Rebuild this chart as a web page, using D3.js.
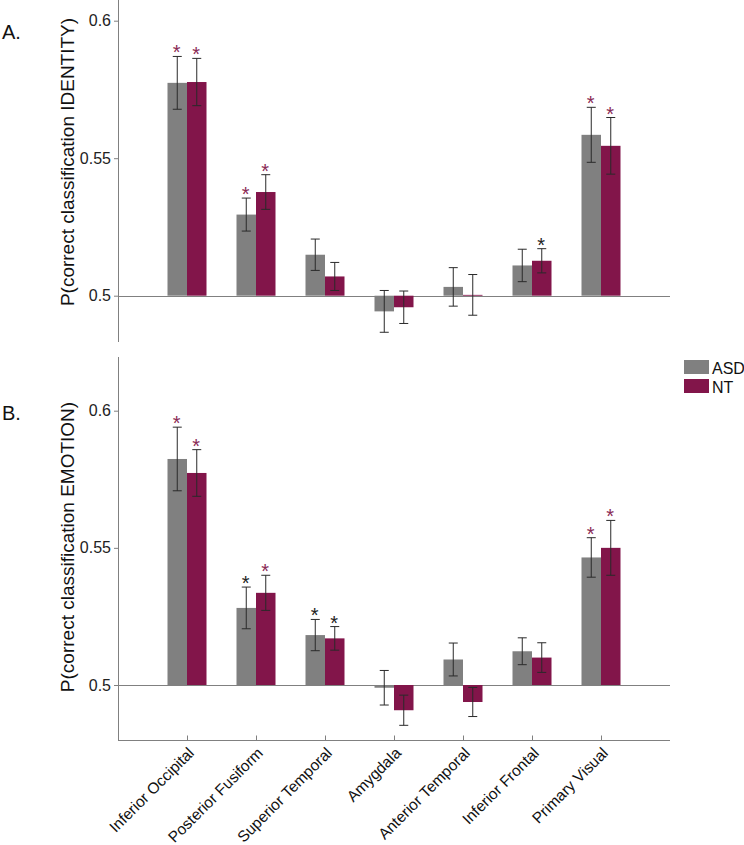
<!DOCTYPE html>
<html>
<head>
<meta charset="utf-8">
<script src="https://cdn.jsdelivr.net/npm/d3@7"></script>
<style>
  html, body { margin: 0; padding: 0; background: #fff; }
  svg { display: block; font-family: "Liberation Sans", Arial, sans-serif; }
</style>
</head>
<body>
<svg id="chart" width="744" height="845"></svg>
<script>
// ---------- DATA ----------
const categories = ["Inferior Occipital", "Posterior Fusiform", "Superior Temporal", "Amygdala", "Anterior Temporal", "Inferior Frontal", "Primary Visual"];
const seriesNames = ["ASD", "NT"];
const yTicks = [0.5, 0.55, 0.6];

const identityASD    = [0.5774, 0.5295, 0.5149, 0.4943, 0.5032, 0.5110, 0.5585];
const identityASDErr = [0.0096, 0.0060, 0.0057, 0.0076, 0.0070, 0.0059, 0.0100];
const identityNT     = [0.5777, 0.5377, 0.5070, 0.4958, 0.5003, 0.5127, 0.5545];
const identityNTErr  = [0.0086, 0.0063, 0.0051, 0.0059, 0.0074, 0.0044, 0.0103];
const identityASDSig = ["m", "m", "", "", "", "", "m"];
const identityNTSig  = ["m", "m", "", "", "", "k", "m"];

const emotionASD    = [0.5824, 0.5281, 0.5182, 0.4990, 0.5093, 0.5123, 0.5465];
const emotionASDErr = [0.0116, 0.0076, 0.0057, 0.0063, 0.0060, 0.0049, 0.0072];
const emotionNT     = [0.5773, 0.5336, 0.5170, 0.4908, 0.4938, 0.5100, 0.5500];
const emotionNTErr  = [0.0085, 0.0064, 0.0043, 0.0055, 0.0053, 0.0054, 0.0100];
const emotionASDSig = ["m", "k", "k", "", "", "", "m"];
const emotionNTSig  = ["m", "m", "k", "", "", "", "m"];

// ---------- STYLE ----------
const colors = { ASD: "#808080", NT: "#82154a" };
const starColors = { m: "#8a2a55", k: "#222222" };
const axisColor = "#808080";

const svg = d3.select("#chart");

const x = d3.scaleLinear().domain([0, categories.length + 1]).range([118, 670]);
const barW = 19.5;

function panel(cfg) {
  const g = svg.append("g");
  const y = d3.scaleLinear().domain([0.5, 0.6]).range(cfg.yRange);

  // y axis (ticks + labels)
  const ax = g.append("g")
    .attr("transform", "translate(118,0)")
    .call(d3.axisLeft(y).tickValues(yTicks).tickSize(4).tickPadding(3)
      .tickFormat(d => d3.format("")(+d.toFixed(2))));
  ax.select(".domain").remove();
  ax.selectAll(".tick line").attr("stroke", axisColor);
  ax.selectAll(".tick text").attr("font-size", 16).attr("fill", "#222")
    .attr("font-family", "'Liberation Sans', Arial, sans-serif");

  // y axis line
  g.append("line").attr("x1", 118.5).attr("x2", 118.5)
    .attr("y1", cfg.axisTop).attr("y2", cfg.axisBottom)
    .attr("stroke", axisColor).attr("stroke-width", 1);

  // baseline at 0.5
  g.append("line").attr("x1", x(0)).attr("x2", x(categories.length + 1))
    .attr("y1", Math.round(y(0.5)) + 0.5).attr("y2", Math.round(y(0.5)) + 0.5)
    .attr("stroke", axisColor).attr("stroke-width", 1);

  const series = [
    { name: "ASD", vals: cfg.asd, errs: cfg.asdErr, sig: cfg.asdSig, off: -barW },
    { name: "NT",  vals: cfg.nt,  errs: cfg.ntErr,  sig: cfg.ntSig,  off: 0 }
  ];

  series.forEach(s => {
    const data = categories.map((c, i) => ({ i, v: s.vals[i], e: s.errs[i], sig: s.sig[i] }));
    g.append("g").selectAll("rect").data(data).join("rect")
      .attr("x", d => x(d.i + 1) + s.off)
      .attr("width", barW)
      .attr("y", d => Math.min(y(d.v), y(0.5)))
      .attr("height", d => Math.max(0.8, Math.abs(y(d.v) - y(0.5))))
      .attr("fill", colors[s.name]);

    const eb = g.append("g").attr("stroke", "#2a2a2a").attr("stroke-width", 1);
    data.forEach(d => {
      const cx = x(d.i + 1) + s.off + barW / 2;
      const yt = y(d.v + d.e), yb = y(d.v - d.e);
      eb.append("line").attr("x1", cx).attr("x2", cx).attr("y1", yt).attr("y2", yb);
      eb.append("line").attr("x1", cx - 4.5).attr("x2", cx + 4.5).attr("y1", yt).attr("y2", yt);
      eb.append("line").attr("x1", cx - 4.5).attr("x2", cx + 4.5).attr("y1", yb).attr("y2", yb);
    });

    g.append("g").selectAll("text").data(data.filter(d => d.sig)).join("text")
      .attr("x", d => x(d.i + 1) + s.off + barW / 2 - 0.5)
      .attr("y", d => y(d.v + d.e) + 3)
      .attr("text-anchor", "middle")
      .attr("font-size", 20)
      .attr("fill", d => starColors[d.sig])
      .text("*");
  });

  // y label
  g.append("text")
    .attr("transform", `translate(${cfg.labelX},${cfg.labelY}) rotate(-90)`)
    .attr("text-anchor", "middle")
    .attr("font-size", 19)
    .attr("fill", "#111")
    .text(cfg.ylabel);

  // panel letter
  g.append("text").attr("x", 2).attr("y", cfg.letterY)
    .attr("font-size", 20).attr("fill", "#111").text(cfg.letter);

  return { g, y };
}

panel({
  yRange: [295.7, 20.7], axisTop: 0, axisBottom: 342,
  asd: identityASD, asdErr: identityASDErr, asdSig: identityASDSig,
  nt: identityNT, ntErr: identityNTErr, ntSig: identityNTSig,
  ylabel: "P(correct classification IDENTITY)", labelX: 74, labelY: 162,
  letter: "A.", letterY: 39
});

panel({
  yRange: [685, 410.7], axisTop: 357, axisBottom: 740,
  asd: emotionASD, asdErr: emotionASDErr, asdSig: emotionASDSig,
  nt: emotionNT, ntErr: emotionNTErr, ntSig: emotionNTSig,
  ylabel: "P(correct classification EMOTION)", labelX: 74, labelY: 547,
  letter: "B.", letterY: 420
});

// x axis at bottom
const xa = svg.append("g").attr("transform", "translate(0,740.5)")
  .call(d3.axisBottom(x).tickValues(d3.range(1, categories.length + 1))
    .tickSize(-5).tickFormat(""));
xa.select(".domain").attr("stroke", axisColor).attr("d", `M${x(0)},0H${x(categories.length + 1)}`);
xa.selectAll(".tick line").attr("stroke", axisColor);

svg.append("g").selectAll("text").data(categories).join("text")
  .attr("transform", (d, i) => `translate(${x(i + 1) + 8},${754}) rotate(-45)`)
  .attr("text-anchor", "end")
  .attr("font-size", 15.5)
  .attr("fill", "#111")
  .text(d => d);

// legend
const legend = svg.append("g");
seriesNames.forEach((n, i) => {
  legend.append("rect").attr("x", 684).attr("y", 360 + i * 19).attr("width", 25).attr("height", 14)
    .attr("fill", colors[n]);
  legend.append("text").attr("x", 712).attr("y", 373.5 + i * 19)
    .attr("font-size", 16).attr("fill", "#111").text(n);
});
</script>
</body>
</html>
